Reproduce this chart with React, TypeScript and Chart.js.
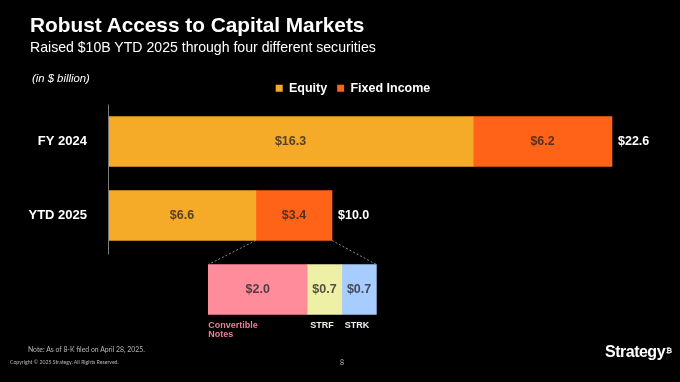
import React, { useEffect, useRef } from "react";
import { Chart, registerables } from "chart.js";

Chart.register(...registerables);

const categories = ["FY 2024", "YTD 2025"];
const equity = [16.3, 6.6];
const fixedIncome = [6.2, 3.4];
const totals = [22.6, 10.0];
const breakdownLabels = ["Convertible\nNotes", "STRF", "STRK"];
const breakdownValues = [2.0, 0.7, 0.7];
const seriesNames = ["Equity", "Fixed Income"];

const FONT = "'Liberation Sans', Arial, sans-serif";
const C_EQ = "#F5AA28";
const C_FI = "#FF6317";
const C_BD = ["#FF8C9B", "#EEF0A6", "#A7CCFF"];
const C_BD_LABEL = ["#F07D95", "#F2F2E6", "#F2F2F6"];
const VAL_TXT = "rgba(40,34,40,0.78)";

const overlayPlugin = {
  id: "overlay",
  afterLayout(chart: any) {
    // shift the legend's box so it is centred like the original slide
    if (chart.legend) chart.legend.left = 38;
  },
  afterDatasetsDraw(chart: any) {
    const ctx = chart.ctx;
    const y = chart.scales.y;
    const area = chart.chartArea;
    const band = y.getPixelForValue(1) - y.getPixelForValue(0);
    ctx.save();
    // axis line
    ctx.strokeStyle = "#7a7a7a";
    ctx.lineWidth = 1;
    ctx.beginPath();
    ctx.moveTo(area.left + 0.5, y.getPixelForValue(0) - band / 2);
    ctx.lineTo(area.left + 0.5, y.getPixelForValue(1) + band / 2 + 2);
    ctx.stroke();

    ctx.textBaseline = "middle";
    // main value labels
    for (let d = 0; d < 2; d++) {
      const meta = chart.getDatasetMeta(d);
      const vals = d === 0 ? equity : fixedIncome;
      vals.forEach((v, i) => {
        const el = meta.data[i].getProps(["x", "y", "base"], true);
        ctx.font = `bold 12.5px ${FONT}`;
        ctx.fillStyle = VAL_TXT;
        ctx.textAlign = "center";
        ctx.fillText("$" + v.toFixed(1), (el.x + el.base) / 2, el.y);
      });
    }
    // totals
    const lastMeta = chart.getDatasetMeta(1);
    totals.forEach((t, i) => {
      const el = lastMeta.data[i].getProps(["x", "y"], true);
      ctx.font = `bold 12.5px ${FONT}`;
      ctx.fillStyle = "#ffffff";
      ctx.textAlign = "left";
      ctx.fillText("$" + t.toFixed(1), el.x + 6, el.y);
    });
    // breakdown
    const bIdx = categories.length;
    breakdownValues.forEach((v, k) => {
      const el = chart.getDatasetMeta(2 + k).data[bIdx].getProps(["x", "y", "base", "height"], true);
      ctx.font = `bold 12.5px ${FONT}`;
      ctx.fillStyle = VAL_TXT;
      ctx.textAlign = "center";
      ctx.textBaseline = "middle";
      ctx.fillText("$" + v.toFixed(1), (el.x + el.base) / 2, el.y);
      ctx.font = `bold 9px ${FONT}`;
      ctx.fillStyle = C_BD_LABEL[k];
      ctx.textAlign = "left";
      ctx.textBaseline = "alphabetic";
      const lines = breakdownLabels[k].split("\n");
      lines.forEach((ln, j) => {
        ctx.fillText(ln, el.base + (k === 0 ? 0 : 3), el.y + el.height / 2 + 13.5 + j * 9);
      });
    });
    // dashed connectors
    const src = chart.getDatasetMeta(1).data[1].getProps(["x", "y", "base", "height"], true);
    const first = chart.getDatasetMeta(2).data[bIdx].getProps(["x", "y", "base", "height"], true);
    const last = chart.getDatasetMeta(2 + breakdownValues.length - 1).data[bIdx].getProps(["x", "y", "base", "height"], true);
    ctx.strokeStyle = "#8a8a8a";
    ctx.lineWidth = 1;
    ctx.setLineDash([2, 2]);
    ctx.beginPath();
    ctx.moveTo(src.base, src.y + src.height / 2);
    ctx.lineTo(first.base, first.y - first.height / 2);
    ctx.moveTo(src.x, src.y + src.height / 2);
    ctx.lineTo(last.x, last.y - last.height / 2);
    ctx.stroke();
    ctx.restore();
  },
};

export default function App() {
  const ref = useRef<HTMLCanvasElement>(null);

  useEffect(() => {
    document.body.style.margin = "0";
    document.body.style.background = "#000";
    const mainSet = (label: string, vals: number[], color: string) => ({
      label,
      data: [...vals, null],
      backgroundColor: color,
      xAxisID: "x",
      grouped: false,
      barThickness: 50,
    });
    const bdSets = breakdownValues.map((v, k) => ({
      label: breakdownLabels[k],
      data: [...categories.map(() => null), v],
      backgroundColor: C_BD[k],
      xAxisID: "x2",
      grouped: false,
      barThickness: 50,
    }));
    const chart = new Chart(ref.current!, {
      type: "bar",
      data: {
        labels: [...categories, ""],
        datasets: [
          mainSet(seriesNames[0], equity, C_EQ),
          mainSet(seriesNames[1], fixedIncome, C_FI),
          ...bdSets,
        ] as any,
      },
      options: {
        indexAxis: "y",
        responsive: false,
        animation: false,
        devicePixelRatio: 1,
        layout: { padding: { left: 12, right: 12, top: 72, bottom: 55.5 } },
        scales: {
          x: { stacked: true, display: false, min: 0, max: 25 },
          x2: { stacked: true, display: false, min: -2.03, max: 9.3, position: "bottom" },
          y: {
            stacked: true,
            grid: { display: false },
            border: { display: false },
            ticks: {
              color: "#ffffff",
              padding: 13,
              font: { family: FONT, size: 13, weight: "bold" },
            },
            afterFit: (s: any) => {
              s.width = 96;
            },
          },
        },
        plugins: {
          legend: {
            position: "top",
            labels: {
              color: "#ffffff",
              boxWidth: 7,
              boxHeight: 7,
              padding: 10,
              font: { family: FONT, size: 12.5, weight: "bold" },
              filter: (item: any) => item.datasetIndex < 2,
            },
          },
          tooltip: { enabled: false },
        },
      } as any,
      plugins: [overlayPlugin],
    });
    return () => chart.destroy();
  }, []);

  const abs = (s: React.CSSProperties): React.CSSProperties => ({ position: "absolute", whiteSpace: "nowrap", ...s });

  return (
    <div style={{ position: "fixed", left: 0, top: 0, width: 680, height: 382, background: "#000", overflow: "hidden", fontFamily: FONT }}>
      <canvas ref={ref} width={680} height={382} style={{ position: "absolute", left: 0, top: 0, width: 680, height: 382 }} />
      <div style={abs({ left: 30, top: 15, fontSize: 20.8, lineHeight: "20px", fontWeight: "bold", color: "#fff" })}>
        Robust Access to Capital Markets
      </div>
      <div style={abs({ left: 30, top: 40, fontSize: 14.1, lineHeight: "14px", color: "#fff" })}>
        Raised $10B YTD 2025 through four different securities
      </div>
      <div style={abs({ left: 32, top: 72.5, fontSize: 11.3, lineHeight: "11px", fontStyle: "italic", color: "#fff" })}>
        (in $ billion)
      </div>
      <div style={abs({ left: 28, top: 344.5, fontSize: 6.85, lineHeight: "9px", color: "#b8b8b8", fontFamily: "Lato, sans-serif" })}>
        Note: As of 8-K filed on April 28, 2025.
      </div>
      <div style={abs({ left: 10, top: 359, fontSize: 5.2, lineHeight: "6px", color: "#b8b8b8", fontFamily: "Lato, sans-serif" })}>
        Copyright © 2025 Strategy. All Rights Reserved.
      </div>
      <div style={abs({ left: 340, top: 358, fontSize: 7, lineHeight: "8px", color: "#b8b8b8", fontFamily: "Lato, sans-serif" })}>
        8
      </div>
      <div style={abs({ left: 605, top: 343.5, fontSize: 16, lineHeight: "16px", fontWeight: "bold", color: "#fff", letterSpacing: -0.5 })}>
        Strategy<sup style={{ fontSize: 7.5, verticalAlign: "top", position: "relative", top: -1, marginLeft: 1 }}>₿</sup>
      </div>
    </div>
  );
}
